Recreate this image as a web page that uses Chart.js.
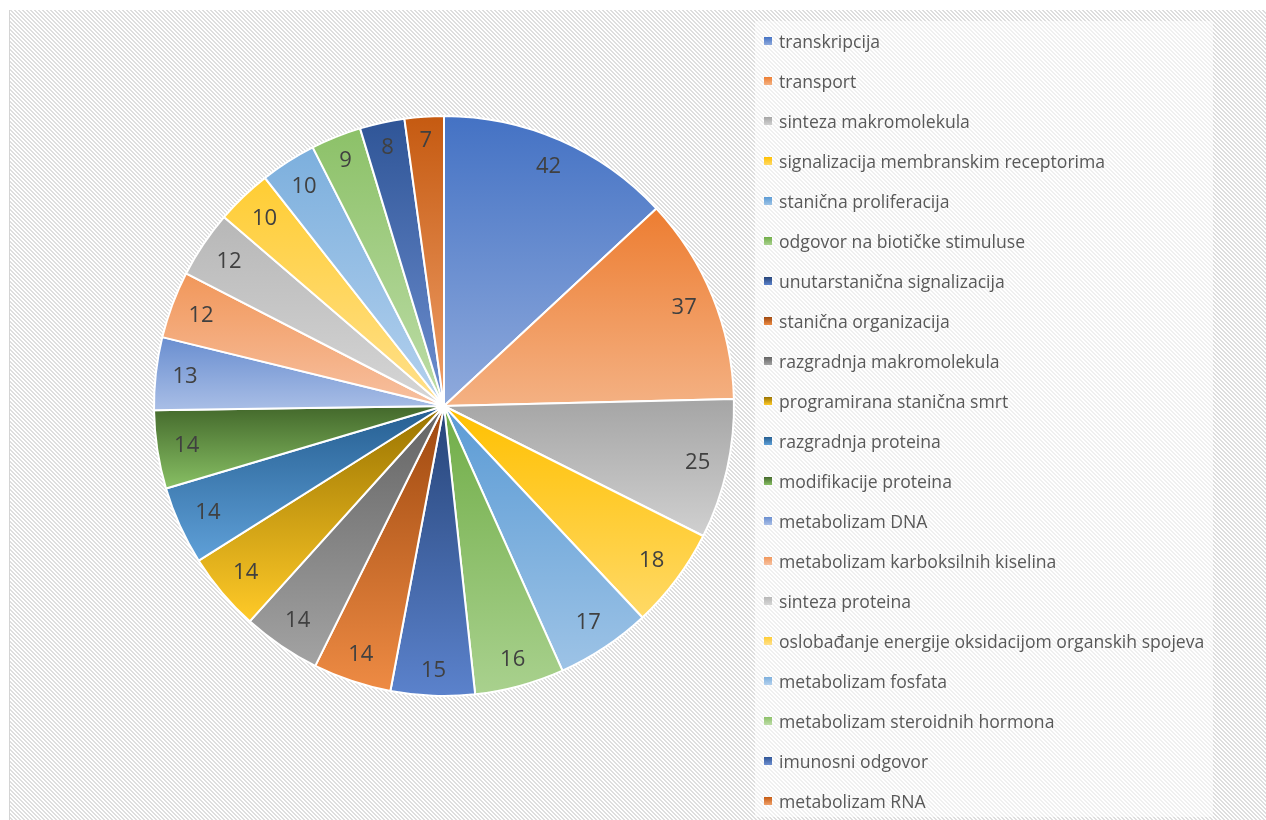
<!DOCTYPE html>
<html>
<head>
<meta charset="utf-8">
<title>Pie</title>
<script src="https://cdn.jsdelivr.net/npm/chart.js@4.4.1/dist/chart.umd.min.js"></script>
<style>
  html, body { margin: 0; padding: 0; background: #fff; overflow: hidden; }
  #wrap { position: relative; width: 1266px; height: 820px; }
  #chart { position: absolute; left: 0; top: 0; }
  #legend {
    position: absolute; left: 755px; top: 21px; width: 458px; height: 796px;
    margin: 0; padding: 0; list-style: none;
    background: rgba(255, 255, 255, 0.55);
    font-family: "Open Sans", sans-serif; font-size: 17.6px; color: #595959;
  }
  #legend li { position: relative; height: 40px; line-height: 40px; padding-left: 24px; white-space: nowrap; }
  #legend li .box { position: absolute; left: 9px; top: 16px; width: 8px; height: 8px; }
</style>
</head>
<body>
<div id="wrap">
  <canvas id="chart" width="1266" height="820"></canvas>
  <ul id="legend"></ul>
</div>
<script>
// kategorije
var labels = [
    "transkripcija",
    "transport",
    "sinteza makromolekula",
    "signalizacija membranskim receptorima",
    "stanična proliferacija",
    "odgovor na biotičke stimuluse",
    "unutarstanična signalizacija",
    "stanična organizacija",
    "razgradnja makromolekula",
    "programirana stanična smrt",
    "razgradnja proteina",
    "modifikacije proteina",
    "metabolizam DNA",
    "metabolizam karboksilnih kiselina",
    "sinteza proteina",
    "oslobađanje energije oksidacijom organskih spojeva",
    "metabolizam fosfata",
    "metabolizam steroidnih hormona",
    "imunosni odgovor",
    "metabolizam RNA"
];
var counts = [42, 37, 25, 18, 17, 16, 15, 14, 14, 14, 14, 14, 13, 12, 12, 10, 10, 9, 8, 7];

// boje (gradijent odozgo prema dolje)
var topColors = ["#4472C4", "#ED7D31", "#A5A5A5", "#FFC000", "#5B9BD5", "#70AD47",
    "#264478", "#9E480E", "#636363", "#997300", "#255E91", "#43682B",
    "#698ED0", "#F1975A", "#B7B7B7", "#FFCD33", "#7CAFDD", "#8CC168",
    "#2F5597", "#C55A11"];
var bottomColors = ["#8FAADC", "#F4B183", "#D0D0D0", "#FFD966", "#9DC3E6", "#A9D18E",
    "#5B82CC", "#EE8B44", "#A3A3A3", "#FFCA28", "#5FA0D8", "#88C064",
    "#A9BEE6", "#F7C0A0", "#D6D6D6", "#FFE08C", "#B4D1EE", "#BEDDA8",
    "#6E8FD0", "#F0A06A"];

// legenda
var ul = document.getElementById("legend");
labels.forEach(function (name, i) {
    var li = document.createElement("li");
    var box = document.createElement("span");
    box.className = "box";
    box.style.background = "linear-gradient(" + topColors[i] + ", " + bottomColors[i] + ")";
    li.appendChild(box);
    li.appendChild(document.createTextNode(name));
    ul.appendChild(li);
});

// pozadina sa šrafurom
var hatchPlugin = {
    id: "hatch",
    beforeDraw: function (chart) {
        var ctx = chart.ctx;
        var tile = document.createElement("canvas");
        tile.width = 4;
        tile.height = 4;
        var t = tile.getContext("2d");
        t.fillStyle = "#ffffff";
        t.fillRect(0, 0, 4, 4);
        t.fillStyle = "#dedede";
        for (var y = 0; y < 4; y++) {
            for (var x = 0; x < 4; x++) {
                var k = ((x - y) % 4 + 4) % 4;
                if (k === 0 || k === 1) t.fillRect(x, y, 1, 1);
            }
        }
        ctx.save();
        ctx.fillStyle = ctx.createPattern(tile, "repeat");
        ctx.fillRect(10, 10, chart.width - 10, chart.height - 10);
        ctx.fillStyle = "#d4d4d4";
        ctx.fillRect(9, 10, 1, chart.height - 10);
        ctx.restore();
    }
};

function arcBounds(arc) {
    var r = arc.outerRadius;
    var ys = [arc.y, arc.y + r * Math.sin(arc.startAngle), arc.y + r * Math.sin(arc.endAngle)];
    [-Math.PI / 2, Math.PI / 2, 3 * Math.PI / 2].forEach(function (a) {
        if (a >= arc.startAngle && a <= arc.endAngle) ys.push(arc.y + r * Math.sin(a));
    });
    return [Math.min.apply(null, ys), Math.max.apply(null, ys)];
}

// gradijent po isječku
var gradientPlugin = {
    id: "sliceGradient",
    beforeDatasetsDraw: function (chart) {
        var ctx = chart.ctx;
        var meta = chart.getDatasetMeta(0);
        meta.data.forEach(function (arc, i) {
            var b = arcBounds(arc);
            var g = ctx.createLinearGradient(0, b[0], 0, b[1]);
            g.addColorStop(0, topColors[i]);
            g.addColorStop(1, bottomColors[i]);
            arc.options = Object.assign({}, arc.options, { backgroundColor: g });
        });
    }
};

// oznake vrijednosti
var labelPlugin = {
    id: "sliceLabels",
    afterDatasetsDraw: function (chart) {
        var ctx = chart.ctx;
        var meta = chart.getDatasetMeta(0);
        var data = chart.data.datasets[0].data;
        ctx.save();
        ctx.font = '22px "Open Sans"';
        ctx.fillStyle = "#404040";
        ctx.textAlign = "center";
        ctx.textBaseline = "middle";
        meta.data.forEach(function (arc, i) {
            var txt = String(data[i]);
            var mid = (arc.startAngle + arc.endAngle) / 2;
            var sx = Math.cos(mid), sy = Math.sin(mid);
            var hw = ctx.measureText(txt).width / 2, hh = 8;
            var R = arc.outerRadius - 16;
            var B = 2 * (Math.abs(sx) * hw + Math.abs(sy) * hh);
            var C = hw * hw + hh * hh - R * R;
            var d = (-B + Math.sqrt(B * B - 4 * C)) / 2;
            ctx.fillText(txt, arc.x + sx * d, arc.y + sy * d);
        });
        ctx.restore();
    }
};

var ctx = document.getElementById("chart");
var pieChart = new Chart(ctx, {
    type: "pie",
    data: {
        labels: labels,
        datasets: [{
            data: counts,
            backgroundColor: topColors,
            borderColor: "#ffffff",
            borderWidth: 2,
            radius: 290
        }]
    },
    options: {
        responsive: false,
        devicePixelRatio: 1,
        animation: false,
        layout: { padding: { left: 154, right: 532, top: 116, bottom: 124 } },
        plugins: {
            legend: { display: false },
            tooltip: { enabled: false }
        }
    },
    plugins: [hatchPlugin, gradientPlugin, labelPlugin]
});
</script>
</body>
</html>
